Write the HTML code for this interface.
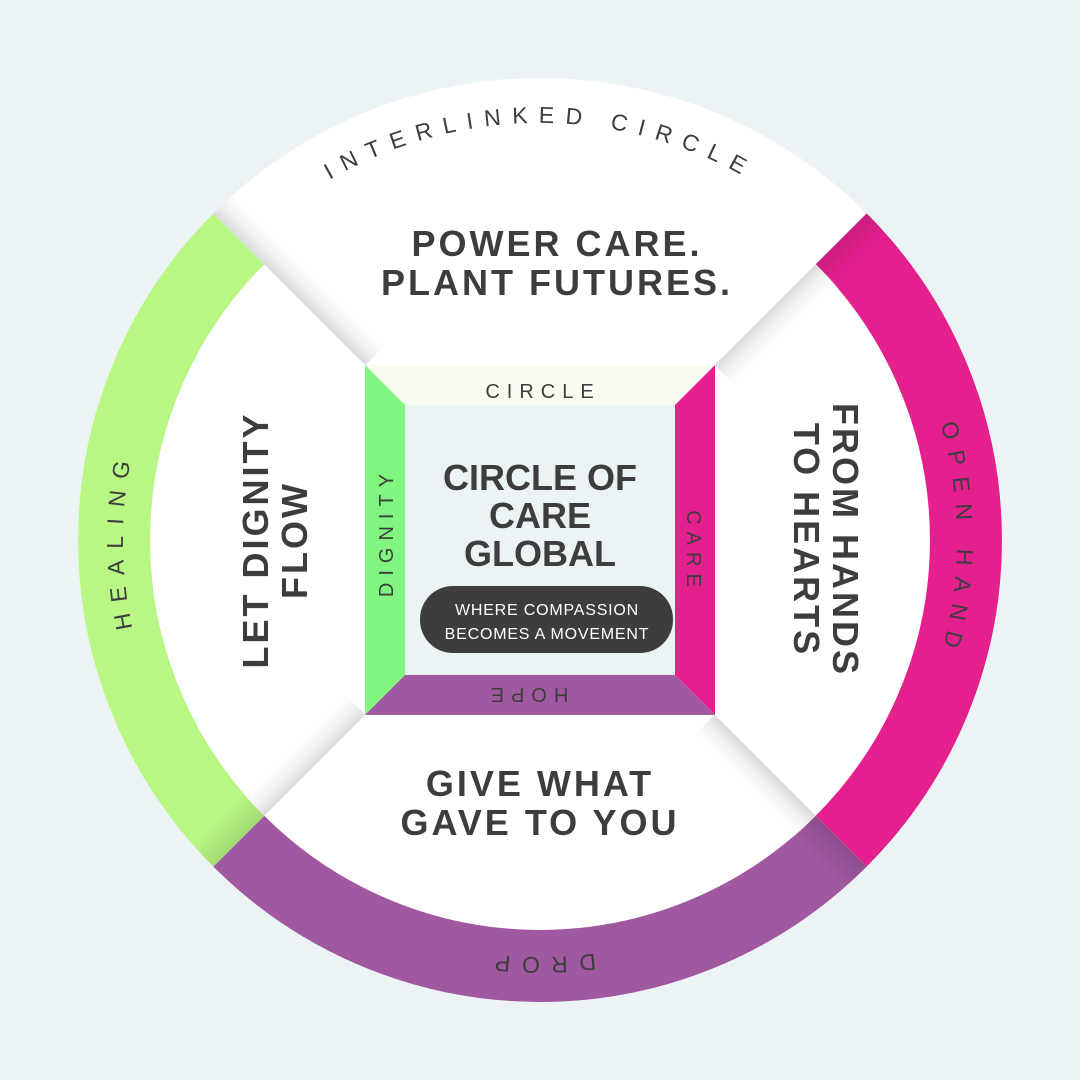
<!DOCTYPE html>
<html><head><meta charset="utf-8"><style>
html,body{margin:0;padding:0;background:#ecf3f5;}
svg{display:block}
text{font-family:"Liberation Sans",sans-serif;fill:#3d3d3d}
</style></head><body>
<svg width="1080" height="1080" viewBox="0 0 1080 1080">
<defs>
<linearGradient id="sh" x1="0" y1="0" x2="0" y2="1">
<stop offset="0" stop-color="#d8d8d8" stop-opacity="0.95"/>
<stop offset="1" stop-color="#ffffff" stop-opacity="0"/>
</linearGradient>
<linearGradient id="sh2" x1="0" y1="0" x2="0" y2="1">
<stop offset="0" stop-color="#000" stop-opacity="0.12"/>
<stop offset="1" stop-color="#000" stop-opacity="0"/>
</linearGradient>
<path id="circ" d="M540,957 A417,417 0 1 1 540,123 A417,417 0 1 1 540,957"/>
<path id="bot" d="M957,540 A417,417 0 0 1 123,540"/>
</defs>
<rect width="1080" height="1080" fill="#ecf3f5"/>
<circle cx="540" cy="540" r="462" fill="#ffffff"/>
<g fill="none" stroke-width="72">
<path d="M841.2,238.8 A426,426 0 0 1 841.2,841.2" stroke="#e4208f"/>
<path d="M841.2,841.2 A426,426 0 0 1 238.8,841.2" stroke="#a058a0"/>
<path d="M238.8,841.2 A426,426 0 0 1 238.8,238.8" stroke="#b8f784"/>
</g>
<g>
<rect x="247" y="0" width="215" height="34" fill="url(#sh)" transform="translate(540 540) rotate(225)"/>
<rect x="247" y="0" width="143" height="34" fill="url(#sh)" transform="translate(540 540) rotate(315)"/>
<rect x="247" y="0" width="143" height="34" fill="url(#sh)" transform="translate(540 540) rotate(45)"/>
<rect x="247" y="0" width="143" height="34" fill="url(#sh)" transform="translate(540 540) rotate(135)"/>
<rect x="390" y="0" width="72" height="30" fill="url(#sh2)" transform="translate(540 540) rotate(315)"/>
<rect x="390" y="0" width="72" height="30" fill="url(#sh2)" transform="translate(540 540) rotate(45)"/>
<rect x="390" y="0" width="72" height="30" fill="url(#sh2)" transform="translate(540 540) rotate(135)"/>
</g>
<polygon points="365,365 715,365 675,405 405,405" fill="#f9fbf1"/>
<polygon points="365,365 405,405 405,675 365,715" fill="#80f57f"/>
<polygon points="715,365 715,715 675,675 675,405" fill="#e4208f"/>
<polygon points="365,715 405,675 675,675 715,715" fill="#a058a0"/>
<rect x="405" y="405" width="270" height="270" fill="#ecf3f5"/>
<text font-size="23" letter-spacing="11"><textPath href="#circ" startOffset="50%" text-anchor="middle">INTERLINKED CIRCLE</textPath></text>
<text font-size="23" letter-spacing="11"><textPath href="#circ" startOffset="25%" text-anchor="middle">HEALING</textPath></text>
<text font-size="23" letter-spacing="11"><textPath href="#circ" startOffset="75%" text-anchor="middle">OPEN HAND</textPath></text>
<text font-size="23" letter-spacing="11"><textPath href="#bot" startOffset="50%" text-anchor="middle">DROP</textPath></text>
<g font-size="36" font-weight="bold" letter-spacing="3" text-anchor="middle">
<text x="557" y="256">POWER CARE.</text>
<text x="557" y="295">PLANT FUTURES.</text>
<text x="540" y="796">GIVE WHAT</text>
<text x="540" y="835">GAVE TO YOU</text>
<g transform="translate(275 540) rotate(-90)"><text x="0" y="-7">LET DIGNITY</text><text x="0" y="32">FLOW</text></g>
<g transform="translate(826 540) rotate(90)"><text x="0" y="-7">FROM HANDS</text><text x="0" y="32">TO HEARTS</text></g>
</g>
<g font-size="20" letter-spacing="7" text-anchor="middle">
<text x="543" y="398">CIRCLE</text>
<text transform="translate(393 532) rotate(-90)">DIGNITY</text>
<text transform="translate(687 552) rotate(90)">CARE</text>
<text transform="translate(526 688) rotate(180)">HOPE</text>
</g>
<g font-size="36" font-weight="bold" text-anchor="middle">
<text x="540" y="490">CIRCLE OF</text>
<text x="540" y="528">CARE</text>
<text x="540" y="566">GLOBAL</text>
</g>
<rect x="420" y="586" width="253" height="67" rx="33" fill="#3d3d3d"/>
<g font-size="16" letter-spacing="0.8" text-anchor="middle">
<text x="547" y="615" style="fill:#fff">WHERE COMPASSION</text>
<text x="547" y="639" style="fill:#fff">BECOMES A MOVEMENT</text>
</g>
</svg>
</body></html>
